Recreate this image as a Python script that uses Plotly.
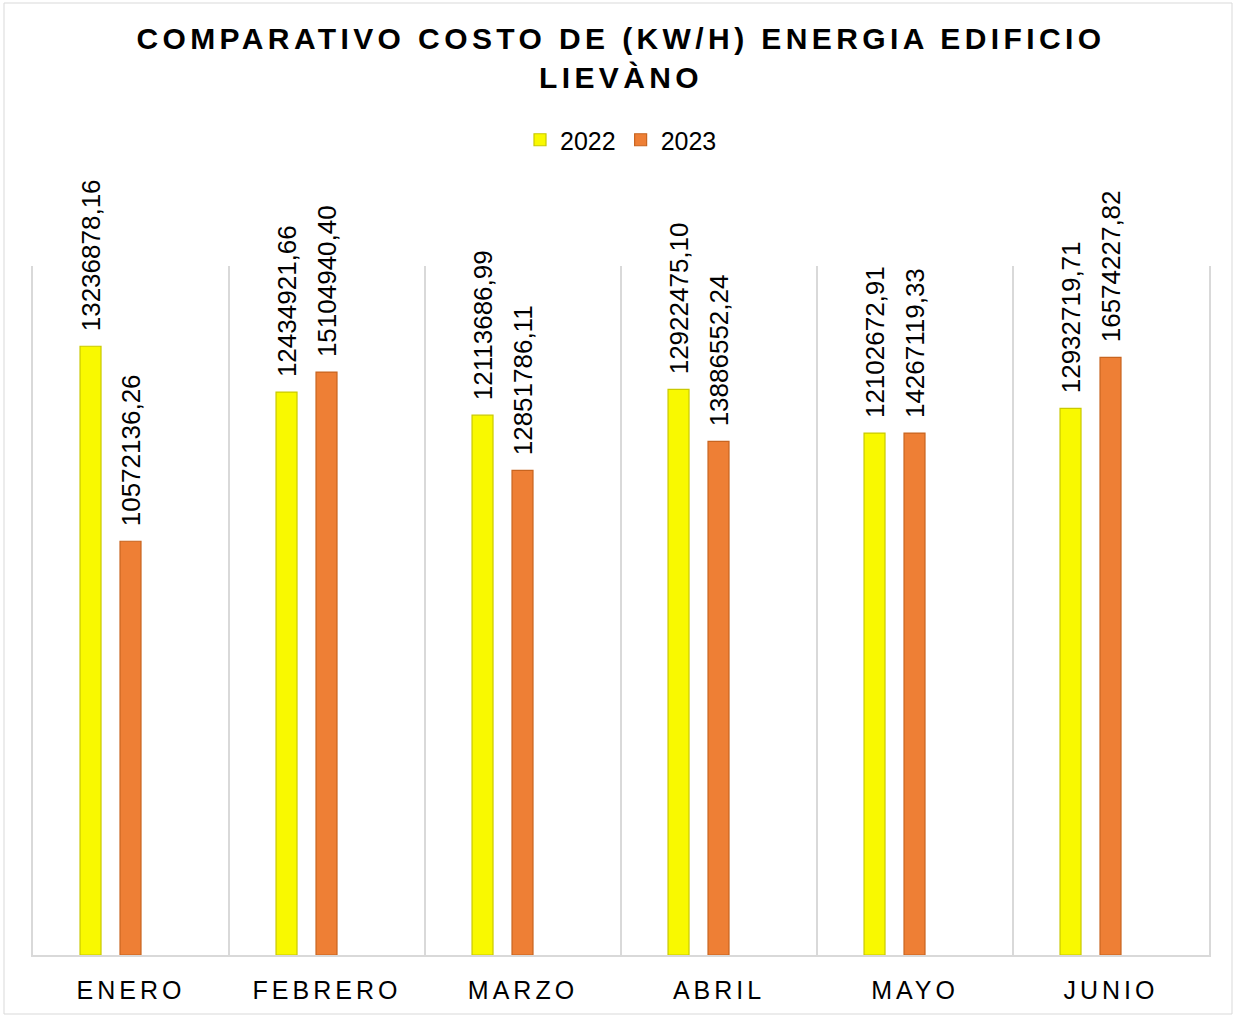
import plotly.graph_objects as go

months = ["ENERO", "FEBRERO", "MARZO", "ABRIL", "MAYO", "JUNIO"]
# bar heights as drawn in the chart
bars_2022 = [17.67e6, 16.34e6, 15.67e6, 16.42e6, 15.15e6, 15.87e6]
bars_2023 = [12.01e6, 16.92e6, 14.07e6, 14.91e6, 15.15e6, 17.35e6]
# data labels as printed on the chart
labels_2022 = ["13236878,16", "12434921,66", "12113686,99", "12922475,10", "12102672,91", "12932719,71"]
labels_2023 = ["10572136,26", "15104940,40", "12851786,11", "13886552,24", "14267119,33", "16574227,82"]

FONT = "Arial, Liberation Sans, sans-serif"
W, H = 1234, 1015
L, R, T, B = 33, 25, 266, 60
pw, ph = W - L - R, H - T - B

bar_w = 0.107
fig = go.Figure()
fig.add_trace(go.Bar(
    x=months, y=bars_2022, name="2022", width=bar_w, offset=-0.260,
    marker=dict(color="#F9F900", line=dict(color="#C9C900", width=1.2)),
))
fig.add_trace(go.Bar(
    x=months, y=bars_2023, name="2023", width=bar_w, offset=-0.056,
    marker=dict(color="#EE7F35", line=dict(color="#C8641F", width=1.2)),
))

annotations = []
for m, v, t in zip(months, bars_2022, labels_2022):
    annotations.append(dict(x=m, y=v, xref="x", yref="y", text=t, showarrow=False,
                            textangle=-90, xanchor="center", yanchor="bottom",
                            xshift=-40, yshift=13, font=dict(family=FONT, size=26, color="#000000")))
for m, v, t in zip(months, bars_2023, labels_2023):
    annotations.append(dict(x=m, y=v, xref="x", yref="y", text=t, showarrow=False,
                            textangle=-90, xanchor="center", yanchor="bottom",
                            xshift=0, yshift=13, font=dict(family=FONT, size=26, color="#000000")))

ls = "letter-spacing:4.4px"
title_text = (f"<span style='{ls}'>COMPARATIVO COSTO DE (KW/H) ENERGIA EDIFICIO</span>"
              f"<br><span style='{ls}'>LIEVÀNO</span>")

fig.update_layout(
    width=W, height=H,
    margin=dict(l=L, r=R, t=T, b=B, pad=0),
    paper_bgcolor="white", plot_bgcolor="white",
    barmode="overlay",
    title=dict(text=title_text, x=621 / W, xanchor="center", xref="container",
               y=1 - 49 / H, yanchor="top", yref="container",
               font=dict(family=FONT, size=30, color="#000000", weight="bold")),
    legend=dict(orientation="h", x=0.5, xanchor="center", y=(954 - 139) / ph, yanchor="middle",
                font=dict(family=FONT, size=25, color="#000000"), itemwidth=30,
                traceorder="normal", bgcolor="rgba(0,0,0,0)"),
    xaxis=dict(type="category", tickson="boundaries", showgrid=True, gridcolor="#D9D9D9", gridwidth=2,
               ticks="", showline=True, linecolor="#D9D9D9", linewidth=2,
               tickmode="array", tickvals=months,
               ticktext=[f"<span style='letter-spacing:4px'>{m}</span>" for m in months],
               tickfont=dict(family=FONT, size=25, color="#000000"), ticklabelstandoff=12,
               range=[-0.5, 5.5]),
    yaxis=dict(range=[0, 20e6], showticklabels=False, showgrid=False, zeroline=False,
               showline=True, mirror=True, linecolor="#D9D9D9", linewidth=2, ticks=""),
    annotations=annotations,
    shapes=[dict(type="rect", xref="paper", yref="paper",
                 x0=(4 - L) / pw, x1=(1232 - L) / pw, y0=(954 - 1013) / ph, y1=(954 - 2) / ph,
                 line=dict(color="#D9D9D9", width=1), fillcolor="rgba(0,0,0,0)", layer="below")],
)

fig.write_html("out.html", config={"displayModeBar": False},
               post_script="document.body.style.margin='0px';")
